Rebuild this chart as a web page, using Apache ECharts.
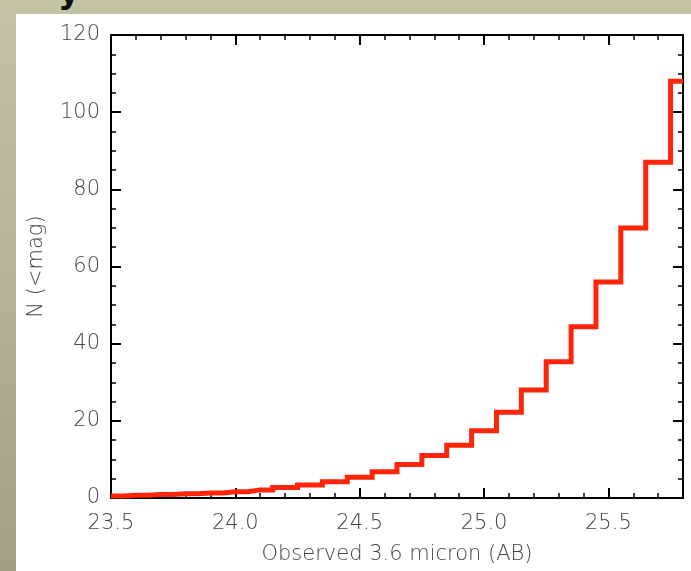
<!DOCTYPE html>
<html>
<head>
<meta charset="utf-8">
<script src="https://cdn.jsdelivr.net/npm/echarts@6/dist/echarts.min.js"></script>
<style>
  html, body { margin: 0; padding: 0; width: 691px; height: 571px; overflow: hidden; }
  body { background: linear-gradient(to bottom, #c3c4a4 0%, #b3b493 50%, #9fa181 100%); position: relative; }
  #panel { position: absolute; left: 16px; top: 14px; width: 675px; height: 557px; background: #ffffff; }
  #glyph { position: absolute; left: 58px; top: -29px; font: bold 34px "DejaVu Sans", sans-serif; color: #111; }
  #chart { position: absolute; left: 0; top: 0; width: 691px; height: 571px; }
</style>
</head>
<body>
<div id="panel"></div>
<div id="glyph">y</div>
<div id="chart"></div>
<script>
// Bin centres (mag) and cumulative counts N(<mag)
var magBins = [23.5, 23.6, 23.7, 23.8, 23.9, 24.0, 24.1, 24.2, 24.3, 24.4, 24.5, 24.6,
               24.7, 24.8, 24.9, 25.0, 25.1, 25.2, 25.3, 25.4, 25.5, 25.6, 25.7, 25.8];
var counts  = [0.5, 0.7, 0.9, 1.1, 1.3, 1.6, 2.1, 2.7, 3.4, 4.2, 5.4, 6.8,
               8.7, 11.0, 13.7, 17.4, 22.2, 28.0, 35.3, 44.4, 56, 70, 87, 108];
var xTickLabels = ['23.5', '24.0', '24.5', '25.0', '25.5'];
var yTickLabels = ['0', '20', '40', '60', '80', '100', '120'];

var seriesData = magBins.map(function (m, i) { return [m, counts[i]]; });

var labelFont = { color: '#444444', fontSize: 21, fontFamily: 'DejaVu Sans', fontWeight: 200 };
var nameFont = { color: '#444444', fontSize: 21, fontFamily: 'DejaVu Sans', fontWeight: 200 };
var lineStyleAxis = { color: '#000', width: 2 };

function xAxisCfg(pos, showLabel) {
  return {
    type: 'value', position: pos, min: 23.5, max: 25.8, interval: 0.5,
    axisLine: { show: true, onZero: false, lineStyle: lineStyleAxis },
    axisTick: { show: true, inside: true, length: 10, lineStyle: lineStyleAxis },
    minorTick: { show: true, splitNumber: 5, length: 5, lineStyle: { color: '#000', width: 1.5 } },
    splitLine: { show: false },
    axisLabel: Object.assign({
      show: showLabel, margin: 15,
      formatter: function (v) {
        var s = v.toFixed(1);
        return xTickLabels.indexOf(s) >= 0 ? s : '';
      }
    }, labelFont),
    name: showLabel ? 'Observed 3.6 micron (AB)' : '',
    nameLocation: 'middle', nameGap: 46,
    nameTextStyle: nameFont
  };
}
function yAxisCfg(pos, showLabel) {
  return {
    type: 'value', position: pos, min: 0, max: 120, interval: 20,
    axisLine: { show: true, onZero: false, lineStyle: lineStyleAxis },
    axisTick: { show: true, inside: true, length: 10, lineStyle: lineStyleAxis },
    minorTick: { show: true, splitNumber: 4, length: 5, lineStyle: { color: '#000', width: 1.5 } },
    splitLine: { show: false },
    axisLabel: Object.assign({
      show: showLabel, margin: 11,
      formatter: function (v) {
        var s = String(Math.round(v));
        return yTickLabels.indexOf(s) >= 0 ? s : '';
      }
    }, labelFont),
    name: showLabel ? 'N (<mag)' : '',
    nameLocation: 'middle', nameGap: 64, nameRotate: 90,
    nameTextStyle: nameFont
  };
}

var chart = echarts.init(document.getElementById('chart'), null, { renderer: 'canvas' });
chart.setOption({
  backgroundColor: 'transparent',
  animation: false,
  grid: { left: 111, right: 8, top: 35, bottom: 73, containLabel: false },
  xAxis: [xAxisCfg('bottom', true), xAxisCfg('top', false)],
  yAxis: [yAxisCfg('left', true), yAxisCfg('right', false)],
  series: [{
    type: 'line',
    step: 'middle',
    xAxisIndex: 0, yAxisIndex: 0,
    data: seriesData,
    showSymbol: false,
    symbol: 'none',
    clip: true,
    lineStyle: { color: '#ff250a', width: 5, join: 'miter', cap: 'butt' },
    z: 1
  }]
});
</script>
</body>
</html>
